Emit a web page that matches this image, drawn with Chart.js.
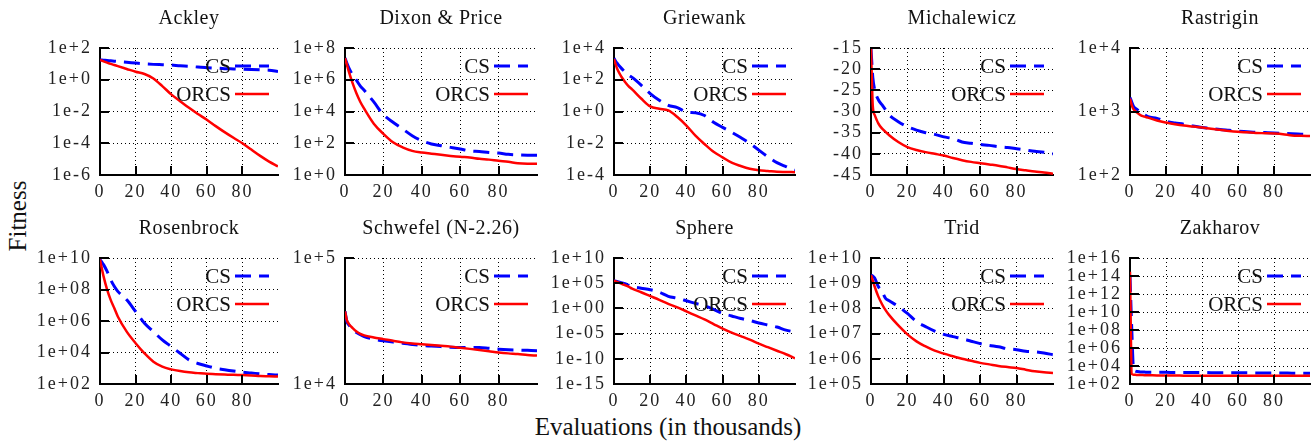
<!DOCTYPE html>
<html>
<head>
<meta charset="utf-8">
<script src="https://cdn.jsdelivr.net/npm/chart.js@4"></script>
<style>
  html, body { margin: 0; padding: 0; background: #fff; width: 1315px; height: 444px; overflow: hidden; position: relative; }
  body { font-family: "Liberation Serif", "Times New Roman", serif; }
  canvas { position: absolute; }
  .axlbl { position: absolute; font-size: 25px; color: #111; white-space: nowrap; transform: translate(-50%, -50%); }
  #ylbl { transform: translate(-50%, -50%) rotate(-90deg); }
</style>
</head>
<body>
<div class="axlbl" id="ylbl" style="left:18px;top:216px">Fitness</div>
<div class="axlbl" style="left:668px;top:427px">Evaluations (in thousands)</div>
<script>
/* evaluations, in thousands */
const EVALS = [0, 1, 2, 4, 6, 8, 10, 15, 20, 25, 30, 35, 40, 45, 50, 55, 60, 65, 70, 75, 80, 85, 90, 95, 100];
const X_TICKS = [0, 20, 40, 60, 80];
const SERIES = ["CS", "ORCS"];

/* best fitness per run, CS vs ORCS */
const ACKLEY_CS   = [17.8, 17.4, 17.0, 16.2, 15.5, 14.8, 14.1, 12.6, 11.2, 10.0, 9.3, 8.9, 8.5, 7.6, 7.1, 6.3, 5.8, 5.4, 5.0, 4.8, 4.6, 4.4, 4.2, 4.0, 3.3];
const ACKLEY_ORCS = [17.8, 16, 14.5, 12, 10, 8.5, 7.2, 4.8, 3.2, 2.3, 1.2, 0.4, 0.12, 0.045, 0.017, 0.007, 0.003, 0.0012, 5e-4, 2.2e-4, 1e-4, 4e-5, 1.6e-5, 7e-6, 3.5e-6];

const DIXON_CS   = [2.3e7, 1.1e7, 5.6e6, 2e6, 9e5, 4e5, 2.2e5, 4e4, 6.3e3, 2.1e3, 800, 300, 145, 90, 70, 55, 43, 33, 30, 26, 24, 20, 18.6, 17.8, 17.8];
const DIXON_ORCS = [2.3e7, 8.7e6, 3.2e6, 5.9e5, 1.35e5, 4e4, 1.5e4, 1.7e3, 390, 115, 55, 33, 26, 22, 18.6, 16, 14, 12.6, 10.5, 9.3, 7.8, 6.8, 5.5, 5.2, 5.2];

const GRIEWANK_CS   = [2300, 1400, 1000, 540, 320, 200, 140, 46, 13.5, 5.1, 2.45, 1.74, 0.93, 0.83, 0.56, 0.21, 0.1, 0.049, 0.023, 0.01, 0.0037, 0.0014, 6e-4, 3.4e-4, 2e-4];
const GRIEWANK_ORCS = [2000, 870, 420, 160, 76, 40, 25, 6.6, 2.1, 1.5, 1.17, 0.45, 0.13, 0.03, 0.0089, 0.0029, 0.0013, 6e-4, 3.7e-4, 2.5e-4, 2e-4, 1.8e-4, 1.6e-4, 1.55e-4, 1.5e-4];

const MICHALEWICZ_CS   = [-15.2, -22, -24.8, -27.2, -28.4, -29.6, -30.8, -32.4, -33.6, -34.4, -35.0, -35.4, -36.0, -36.4, -37.2, -37.5, -37.8, -38.0, -38.3, -38.5, -38.8, -39.1, -39.4, -39.6, -40.0];
const MICHALEWICZ_ORCS = [-15, -28.8, -30.8, -32.8, -34.0, -34.8, -35.6, -37.2, -38.4, -39.1, -39.6, -40.0, -40.4, -41.0, -41.5, -41.9, -42.2, -42.5, -42.8, -43.2, -43.6, -43.9, -44.2, -44.4, -44.7];

const RASTRIGIN_CS   = [1660, 1400, 1200, 1070, 960, 890, 830, 780, 700, 660, 630, 590, 560, 540, 520, 505, 490, 480, 470, 465, 460, 452, 445, 440, 435];
const RASTRIGIN_ORCS = [1600, 1250, 1080, 960, 870, 830, 800, 720, 670, 630, 600, 580, 560, 535, 515, 495, 480, 470, 460, 455, 450, 440, 420, 415, 410];

const ROSENBROCK_CS   = [7.9e9, 5.6e9, 3.8e9, 1.4e9, 4.2e8, 1.6e8, 7.6e7, 2.2e7, 4e6, 7.2e5, 2.1e5, 6.3e4, 2.4e4, 8.9e3, 3.4e3, 2e3, 1.4e3, 1e3, 800, 660, 560, 500, 440, 400, 370];
const ROSENBROCK_ORCS = [7.9e9, 2.2e9, 6.8e8, 9.8e7, 2.2e7, 6.6e6, 1.95e6, 2.1e5, 3.9e4, 8.9e3, 2.6e3, 1.26e3, 850, 660, 550, 490, 440, 420, 400, 380, 370, 350, 325, 310, 295];

const SCHWEFEL_CS   = [37700, 31300, 29500, 27000, 25600, 24600, 23800, 22700, 22000, 21500, 21100, 20600, 20200, 20000, 19800, 19600, 19500, 19500, 19500, 19200, 18900, 18700, 18600, 18500, 18400];
const SCHWEFEL_ORCS = [37700, 32000, 30000, 27800, 26100, 25000, 24300, 23400, 22700, 22000, 21400, 21000, 20700, 20400, 20100, 19800, 19400, 19000, 18600, 18200, 17800, 17500, 17300, 17000, 16800];

const SPHERE_CS   = [3.2e5, 2.5e5, 2e5, 1.26e5, 7.9e4, 4e4, 2.2e4, 1e4, 5e3, 1.6e3, 250, 100, 32, 10, 3.2, 0.63, 0.1, 0.032, 0.01, 4e-3, 1.26e-3, 5e-4, 2e-4, 5e-5, 2e-5];
const SPHERE_ORCS = [3.2e5, 2.2e5, 1.6e5, 8e4, 4e4, 2e4, 8e3, 1.6e3, 280, 50, 8, 1.6, 0.25, 0.04, 6.3e-3, 8e-4, 1e-4, 1.6e-5, 3.2e-6, 6.3e-7, 1e-7, 2e-8, 4e-9, 8e-10, 1.26e-10];

const TRID_CS   = [2.1e9, 1.9e9, 1.6e9, 7.4e8, 4.7e8, 2.5e8, 2e8, 1.2e8, 6.3e7, 3e7, 1.9e7, 1.26e7, 9.3e6, 7.6e6, 6.3e6, 5e6, 4e6, 3.4e6, 3e6, 2.5e6, 2.3e6, 2e6, 1.9e6, 1.7e6, 1.45e6];
const TRID_ORCS = [2.1e9, 1.26e9, 7.4e8, 3e8, 1.5e8, 8.5e7, 5.4e7, 2.1e7, 9.3e6, 4.9e6, 3.1e6, 2.1e6, 1.6e6, 1.26e6, 1e6, 8.3e5, 6.9e5, 6e5, 5.2e5, 4.7e5, 4.3e5, 3.7e5, 3.2e5, 2.9e5, 2.75e5];

const ZAKHAROV_CS   = [1e14, 1e8, 4e3, 2.5e3, 2.2e3, 2.1e3, 2e3, 2e3, 2e3, 1.9e3, 1.9e3, 1.9e3, 1.9e3, 1.8e3, 1.8e3, 1.8e3, 1.8e3, 1.8e3, 1.7e3, 1.7e3, 1.7e3, 1.7e3, 1.6e3, 1.6e3, 1.6e3];
const ZAKHAROV_ORCS = [3e14, 1.3e3, 1.1e3, 1e3, 1e3, 950, 950, 900, 900, 900, 850, 850, 850, 850, 850, 850, 850, 850, 800, 800, 800, 800, 800, 800, 800];

/* y ticks and their labels */
const ACKLEY_TICKS = [1e-6, 1e-4, 1e-2, 1, 1e2];
const ACKLEY_LABELS = ["1e-6", "1e-4", "1e-2", "1e+0", "1e+2"];
const DIXON_TICKS = [1, 1e2, 1e4, 1e6, 1e8];
const DIXON_LABELS = ["1e+0", "1e+2", "1e+4", "1e+6", "1e+8"];
const GRIEWANK_TICKS = [1e-4, 1e-2, 1, 1e2, 1e4];
const GRIEWANK_LABELS = ["1e-4", "1e-2", "1e+0", "1e+2", "1e+4"];
const MICHALEWICZ_TICKS = [-45, -40, -35, -30, -25, -20, -15];
const MICHALEWICZ_LABELS = ["-45", "-40", "-35", "-30", "-25", "-20", "-15"];
const RASTRIGIN_TICKS = [1e2, 1e3, 1e4];
const RASTRIGIN_LABELS = ["1e+2", "1e+3", "1e+4"];
const ROSENBROCK_TICKS = [1e2, 1e4, 1e6, 1e8, 1e10];
const ROSENBROCK_LABELS = ["1e+02", "1e+04", "1e+06", "1e+08", "1e+10"];
const SCHWEFEL_TICKS = [1e4, 1e5];
const SCHWEFEL_LABELS = ["1e+4", "1e+5"];
const SPHERE_TICKS = [1e-15, 1e-10, 1e-5, 1, 1e5, 1e10];
const SPHERE_LABELS = ["1e-15", "1e-10", "1e-05", "1e+00", "1e+05", "1e+10"];
const TRID_TICKS = [1e5, 1e6, 1e7, 1e8, 1e9, 1e10];
const TRID_LABELS = ["1e+05", "1e+06", "1e+07", "1e+08", "1e+09", "1e+10"];
const ZAKHAROV_TICKS = [1e2, 1e4, 1e6, 1e8, 1e10, 1e12, 1e14, 1e16];
const ZAKHAROV_LABELS = ["1e+02", "1e+04", "1e+06", "1e+08", "1e+10", "1e+12", "1e+14", "1e+16"];

const PANELS = [
  { title: "Ackley",            cs: ACKLEY_CS,      orcs: ACKLEY_ORCS,      ticks: ACKLEY_TICKS,      labels: ACKLEY_LABELS,      log: true },
  { title: "Dixon & Price",     cs: DIXON_CS,       orcs: DIXON_ORCS,       ticks: DIXON_TICKS,       labels: DIXON_LABELS,       log: true },
  { title: "Griewank",          cs: GRIEWANK_CS,    orcs: GRIEWANK_ORCS,    ticks: GRIEWANK_TICKS,    labels: GRIEWANK_LABELS,    log: true },
  { title: "Michalewicz",       cs: MICHALEWICZ_CS, orcs: MICHALEWICZ_ORCS, ticks: MICHALEWICZ_TICKS, labels: MICHALEWICZ_LABELS, log: false },
  { title: "Rastrigin",         cs: RASTRIGIN_CS,   orcs: RASTRIGIN_ORCS,   ticks: RASTRIGIN_TICKS,   labels: RASTRIGIN_LABELS,   log: true },
  { title: "Rosenbrock",        cs: ROSENBROCK_CS,  orcs: ROSENBROCK_ORCS,  ticks: ROSENBROCK_TICKS,  labels: ROSENBROCK_LABELS,  log: true },
  { title: "Schwefel (N-2.26)", cs: SCHWEFEL_CS,    orcs: SCHWEFEL_ORCS,    ticks: SCHWEFEL_TICKS,    labels: SCHWEFEL_LABELS,    log: true },
  { title: "Sphere",            cs: SPHERE_CS,      orcs: SPHERE_ORCS,      ticks: SPHERE_TICKS,      labels: SPHERE_LABELS,      log: true },
  { title: "Trid",              cs: TRID_CS,        orcs: TRID_ORCS,        ticks: TRID_TICKS,        labels: TRID_LABELS,        log: true },
  { title: "Zakharov",          cs: ZAKHAROV_CS,    orcs: ZAKHAROV_ORCS,    ticks: ZAKHAROV_TICKS,    labels: ZAKHAROV_LABELS,    log: true },
];

/* plot-area boxes on the page: [left, width] per column, [top, height] per row */
const COLS = [[100, 178], [345, 192], [614, 181], [871, 182], [1130, 180]];
const ROWS = [[48, 127], [258, 126]];
const AX_W = 70, TOP = 42, RIGHT = 5, BOT = 34;
const FONT = '"Liberation Serif", "Times New Roman", serif';

const BLUE = "#0000ff", RED = "#ff0000";
const CS_DASH = [16, 8];

/* the tick labels are set a little wider than the plain font */
const spacingPlugin = {
  id: "spacing",
  beforeDraw(chart) { chart.ctx.letterSpacing = "2px"; },
  afterDraw(chart) { chart.ctx.letterSpacing = "0px"; }
};

/* gnuplot-style frame: inward ticks, title above, key in the top right corner */
const framePlugin = {
  id: "frame",
  afterDatasetsDraw(chart, args, opts) {
    const { ctx, chartArea: a, scales: { x, y } } = chart;
    ctx.save();
    ctx.letterSpacing = "0px";
    ctx.strokeStyle = "#000";
    ctx.lineWidth = 2;
    ctx.setLineDash([]);
    ctx.beginPath();
    y.ticks.forEach(t => {
      const py = Math.round(y.getPixelForValue(t.value));
      ctx.moveTo(a.left, py); ctx.lineTo(a.left + 9, py);
    });
    x.ticks.forEach(t => {
      const px = Math.round(x.getPixelForValue(t.value));
      ctx.moveTo(px, a.bottom); ctx.lineTo(px, a.bottom - 9);
    });
    ctx.stroke();

    ctx.fillStyle = "#111";
    ctx.font = "20px " + FONT;
    ctx.letterSpacing = "0.5px";
    ctx.textAlign = "center";
    ctx.textBaseline = "middle";
    ctx.fillText(opts.title, (a.left + a.right) / 2, a.top - 29);

    ctx.font = "21px " + FONT;
    ctx.letterSpacing = "0px";
    ctx.textAlign = "right";
    SERIES.forEach((name, k) => {
      const ds = chart.data.datasets.find(d => d.label === name);
      const yy = a.top + (k === 0 ? 18 : 46);
      ctx.fillStyle = "#111";
      ctx.fillText(name, a.right - 47, yy + 1);
      ctx.strokeStyle = ds.borderColor;
      ctx.lineWidth = ds.borderWidth;
      ctx.setLineDash(ds.borderDash || []);
      ctx.beginPath();
      ctx.moveTo(a.right - 43, yy);
      ctx.lineTo(a.right - 9, yy);
      ctx.stroke();
    });
    ctx.restore();
  }
};

PANELS.forEach((p, i) => {
  const [left, w] = COLS[i % 5];
  const [top, h] = ROWS[Math.floor(i / 5)];
  const cv = document.createElement("canvas");
  cv.width = AX_W + w + RIGHT;
  cv.height = TOP + h + BOT;
  cv.style.left = (left - AX_W) + "px";
  cv.style.top = (top - TOP) + "px";
  document.body.appendChild(cv);

  const pts = arr => EVALS.map((x, k) => ({ x: x, y: arr[k] }));
  const tickFont = { family: FONT, size: 18 };

  new Chart(cv, {
    type: "line",
    data: {
      datasets: [
        { label: "ORCS", data: pts(p.orcs), borderColor: RED, borderWidth: 2.5, order: 0 },
        { label: "CS", data: pts(p.cs), borderColor: BLUE, borderWidth: 3, borderDash: CS_DASH, order: 1 }
      ]
    },
    options: {
      responsive: false,
      animation: false,
      devicePixelRatio: 1,
      layout: { padding: { left: 0, top: TOP, right: RIGHT, bottom: 0 } },
      elements: {
        point: { radius: 0 },
        line: { cubicInterpolationMode: "monotone", borderCapStyle: "butt", fill: false }
      },
      plugins: {
        legend: { display: false },
        tooltip: { enabled: false },
        frame: { title: p.title }
      },
      scales: {
        x: {
          type: "linear",
          min: 0, max: 100,
          afterBuildTicks: s => { s.ticks = X_TICKS.map(v => ({ value: v })); },
          afterFit: s => { s.height = BOT; s.paddingLeft = 0; s.paddingRight = 0; },
          ticks: { autoSkip: false, maxRotation: 0, padding: 6, color: "#222", font: tickFont },
          grid: { color: "#000", lineWidth: 1, drawTicks: false },
          border: { display: true, color: "#000", width: 2, dash: [1, 3] }
        },
        y: {
          type: p.log ? "logarithmic" : "linear",
          min: p.ticks[0], max: p.ticks[p.ticks.length - 1],
          afterBuildTicks: s => { s.ticks = p.ticks.map(v => ({ value: v })); },
          afterFit: s => { s.width = AX_W; s.paddingTop = 0; s.paddingBottom = 0; },
          ticks: { autoSkip: false, padding: 8, color: "#222", font: tickFont, callback: (v, k) => p.labels[k] },
          grid: { color: "#000", lineWidth: 1, drawTicks: false },
          border: { display: true, color: "#000", width: 2, dash: [1, 3] }
        }
      }
    },
    plugins: [spacingPlugin, framePlugin]
  });
});
</script>
</body>
</html>
